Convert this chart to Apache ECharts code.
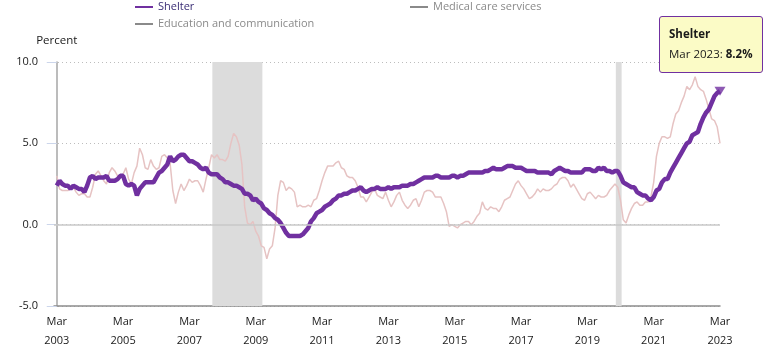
<!DOCTYPE html>
<html>
<head>
<meta charset="utf-8">
<script src="https://cdn.jsdelivr.net/npm/echarts@6/dist/echarts.min.js"></script>
<style>html,body{margin:0;padding:0;background:#fff}#c{width:770px;height:358px}</style>
</head>
<body>
<div id="c"></div>
<script>
// ---------- DATA ----------
const startYear = 2003, startMonth = 2; // Mar 2003 (0-based month)
const monthNames = ['Jan','Feb','Mar','Apr','May','Jun','Jul','Aug','Sep','Oct','Nov','Dec'];

// 12-month percent change, Mar 2003 .. Mar 2023 (monthly)
const shelter = [
 2.4,2.7,2.5,2.4,2.4,2.2,2.4,2.3,2.2,2.2,
 2.0,2.4,2.9,3.0,2.8,2.9,2.9,2.9,3.0,2.7,2.7,2.7,
 2.8,3.0,3.0,2.5,2.4,2.5,2.4,1.8,2.2,2.4,2.6,2.6,
 2.6,2.6,2.9,3.2,3.3,3.5,3.7,4.2,3.9,4.0,4.2,4.3,
 4.3,4.1,3.9,3.9,3.8,3.7,3.5,3.4,3.5,3.2,3.1,3.1,
 3.1,2.9,2.8,2.6,2.6,2.5,2.4,2.4,2.3,2.2,1.9,1.9,
 1.8,1.5,1.6,1.4,1.3,1.0,0.9,0.7,0.6,0.4,0.3,0.1,
 -0.2,-0.5,-0.7,-0.7,-0.7,-0.7,-0.7,-0.6,-0.4,-0.2,0.2,0.4,
 0.7,0.8,0.9,1.1,1.2,1.3,1.5,1.6,1.8,1.8,1.9,1.9,
 2.0,2.1,2.1,2.2,2.3,2.1,2.0,2.1,2.2,2.2,2.3,2.2,
 2.2,2.2,2.3,2.2,2.3,2.3,2.3,2.4,2.4,2.4,2.5,2.5,
 2.6,2.7,2.8,2.9,2.9,2.9,2.9,3.0,3.0,2.9,2.9,2.9,
 2.9,3.0,3.0,2.9,3.0,3.0,3.1,3.2,3.2,3.2,3.2,3.2,
 3.2,3.3,3.3,3.4,3.5,3.4,3.4,3.4,3.5,3.6,3.6,3.6,
 3.5,3.5,3.5,3.4,3.3,3.3,3.3,3.3,3.2,3.2,3.2,3.2,
 3.2,3.1,3.3,3.4,3.5,3.4,3.3,3.3,3.2,3.2,3.2,3.2,
 3.2,3.4,3.4,3.4,3.3,3.3,3.5,3.4,3.5,3.3,3.3,3.2,
 3.3,3.3,3.0,2.6,2.5,2.4,2.3,2.3,2.0,1.9,1.8,1.8,
 1.6,1.5,1.7,2.1,2.2,2.6,2.8,2.8,3.2,3.5,3.8,4.1,
 4.4,4.7,5.0,5.1,5.5,5.6,5.7,6.2,6.6,6.9,7.1,7.5,
 7.9,8.1,8.2
];
const allItems = [
 3.0,2.2,2.1,2.1,2.1,2.2,2.3,2.0,1.8,1.9,
 1.9,1.7,1.7,2.3,3.1,3.3,3.0,2.7,2.5,3.2,3.5,3.3,
 3.0,3.0,3.1,3.5,2.8,2.5,3.2,3.6,4.7,4.3,3.5,3.4,
 4.0,3.6,3.4,3.5,4.2,4.3,4.1,3.8,2.1,1.3,2.0,2.5,
 2.1,2.4,2.8,2.6,2.7,2.7,2.4,2.0,2.8,3.5,4.3,4.1,
 4.3,4.0,4.0,3.9,4.2,5.0,5.6,5.4,4.9,3.7,1.1,0.1,
 0.0,0.2,-0.4,-0.7,-1.3,-1.4,-2.1,-1.5,-1.3,-0.2,1.8,2.7,
 2.6,2.1,2.3,2.2,2.0,1.1,1.2,1.1,1.1,1.2,1.1,1.5,
 1.6,2.1,2.7,3.2,3.6,3.6,3.6,3.8,3.9,3.5,3.4,3.0,
 2.9,2.9,2.7,2.3,1.7,1.7,1.4,1.7,2.0,2.2,1.8,1.7,
 1.6,2.0,1.5,1.1,1.4,1.8,2.0,1.5,1.2,1.0,1.2,1.5,
 1.6,1.1,1.5,2.0,2.1,2.1,2.0,1.7,1.7,1.7,1.3,0.8,
 -0.1,0.0,-0.1,-0.2,0.0,0.1,0.2,0.2,0.0,0.2,0.5,0.7,
 1.4,1.0,0.9,1.1,1.0,1.0,0.8,1.1,1.5,1.6,1.7,2.1,
 2.5,2.7,2.4,2.2,1.9,1.6,1.7,1.9,2.2,2.0,2.2,2.1,
 2.1,2.2,2.4,2.5,2.8,2.9,2.9,2.7,2.3,2.5,2.2,1.9,
 1.6,1.5,1.9,2.0,1.8,1.6,1.8,1.7,1.7,1.8,2.1,2.3,
 2.5,2.3,1.5,0.3,0.1,0.6,1.0,1.3,1.4,1.2,1.2,1.4,
 1.4,1.7,2.6,4.2,5.0,5.4,5.4,5.3,5.4,6.2,6.8,7.0,
 7.5,7.9,8.5,8.3,8.6,9.1,8.5,8.3,8.2,7.7,7.1,6.5,
 6.4,6.0,5.0
];
const legendNames = ['Shelter','Education and communication','Medical care services'];
const recessions = [['Dec 2007','Jun 2009'],['Feb 2020','Apr 2020']];
const xTickMonths = ['Mar 2003','Mar 2005','Mar 2007','Mar 2009','Mar 2011','Mar 2013','Mar 2015','Mar 2017','Mar 2019','Mar 2021','Mar 2023'];
const yTicks = [-5, 0, 5, 10];

// ---------- BUILD ----------
const months = shelter.map((_, i) => {
  const m = (startMonth + i) % 12, y = startYear + Math.floor((startMonth + i) / 12);
  return monthNames[m] + ' ' + y;
});
const idxOf = s => months.indexOf(s);
const FONT = "'Open Sans', 'Segoe UI', sans-serif";
const FS = 11;
const PURPLE = '#7030a0';
const last = shelter.length - 1;

const legendBase = {
  top: 0, padding: 0, orient: 'vertical', itemGap: 3, itemWidth: 18, itemHeight: 2, icon: 'rect',
  inactiveColor: '#8a8a8a',
  textStyle: {fontSize: FS, color: '#3a2d75', fontFamily: FONT, lineHeight: 14}
};

const chart = echarts.init(document.getElementById('c'), null, {renderer: 'canvas'});
chart.setOption({
  animation: false,
  textStyle: {fontFamily: FONT},
  grid: {left: 54, right: 50, top: 62, bottom: 52},
  legend: [
    Object.assign({}, legendBase, {left: 135, data: [legendNames[0], legendNames[1]],
      selected: {[legendNames[1]]: false}}),
    Object.assign({}, legendBase, {left: 410, data: [legendNames[2]],
      selected: {[legendNames[2]]: false}})
  ],
  tooltip: {
    trigger: 'item', triggerOn: 'none', alwaysShowContent: true, transitionDuration: 0,
    position: [659, 16],
    backgroundColor: '#fbfbc6', borderColor: PURPLE, borderWidth: 1.5, padding: [7, 9, 8, 9],
    textStyle: {fontFamily: FONT, fontSize: 11.5, color: '#1a1a1a'},
    extraCssText: 'box-shadow:none;border-radius:3px;line-height:20px;',
    formatter: p => {
      const i = p.value[0];
      return '<div style="font-weight:bold">' + legendNames[0] + '</div>' +
             '<div>' + months[i] + ': <b>' + shelter[i].toFixed(1) + '%</b></div>';
    }
  },
  xAxis: {
    type: 'value', min: -1, max: last,
    axisLine: {show: true, onZero: false, lineStyle: {color: '#8c8c8c', width: 1.5}},
    axisTick: {show: false},
    splitLine: {show: false},
    axisLabel: {
      customValues: xTickMonths.map(idxOf),
      formatter: v => months[v] ? months[v].replace(' ', '\n') : '',
      color: '#1a1a1a', fontSize: FS, lineHeight: 19, margin: 6, fontFamily: FONT
    }
  },
  yAxis: {
    type: 'value', min: yTicks[0], max: yTicks[yTicks.length - 1], interval: 5,
    name: 'Percent', nameLocation: 'end', nameGap: 15,
    nameTextStyle: {color: '#1a1a1a', fontSize: FS + 0.5, fontFamily: FONT, align: 'center'},
    axisLine: {show: true, lineStyle: {color: '#a6a6a6', width: 1.5}},
    axisTick: {show: true, length: 10, lineStyle: {color: '#ccd6eb'}},
    axisLabel: {formatter: v => v.toFixed(1), color: '#1a1a1a', fontSize: FS, margin: 16, fontFamily: FONT},
    splitLine: {show: true, lineStyle: {color: '#bdbdbd', type: [1, 3], width: 1}}
  },
  series: [
    {
      name: 'All items', type: 'line', data: allItems.map((v, i) => [i, v]),
      showSymbol: false, silent: true, z: 2,
      lineStyle: {color: '#e6c3c3', width: 1.5}, itemStyle: {color: '#e6c3c3'},
      markArea: {
        silent: true,
        itemStyle: {color: '#dcdcdc'},
        data: recessions.map(r => [{xAxis: idxOf(r[0]) - 0.7}, {xAxis: idxOf(r[1]) - 0.6}])
      },
      markLine: {
        silent: true, symbol: 'none', label: {show: false},
        lineStyle: {color: '#c8c8c8', type: 'solid', width: 1.5},
        data: [{yAxis: 0}]
      }
    },
    {
      name: legendNames[0], type: 'line', data: shelter.map((v, i) => [i, v]),
      showSymbol: false, silent: true, z: 4,
      lineStyle: {color: PURPLE, width: 4.5}, itemStyle: {color: PURPLE}
    },
    {
      name: legendNames[0], type: 'scatter', data: [[last, shelter[last]]],
      symbol: 'triangle', symbolRotate: 180, symbolSize: [11, 9], z: 5,
      itemStyle: {color: PURPLE}
    },
    {name: legendNames[1], type: 'line', data: [], itemStyle: {color: '#4a90d9'}},
    {name: legendNames[2], type: 'line', data: [], itemStyle: {color: '#3aa657'}}
  ]
});
chart.dispatchAction({type: 'showTip', seriesIndex: 2, dataIndex: 0});
</script>
</body>
</html>
